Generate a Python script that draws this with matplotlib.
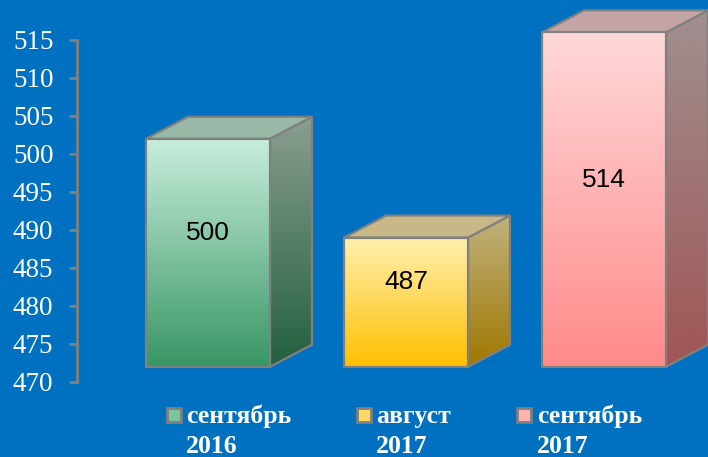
import numpy as np
import matplotlib
matplotlib.use("Agg")
import matplotlib.pyplot as plt
from matplotlib.patches import Polygon, Rectangle
from matplotlib.colors import LinearSegmentedColormap

# data
categories = ["сентябрь\n2016", "август\n2017", "сентябрь\n2017"]
values = [500, 487, 514]
yticks = [470, 475, 480, 485, 490, 495, 500, 505, 510, 515]

# colours: front top, front bottom, side top, side bottom, top face
palettes = [
    ("#C8EEDC", "#389664", "#8A9E90", "#236040", "#9AB8A6"),
    ("#FFF0B0", "#FFC000", "#C0B27E", "#A07800", "#C8B888"),
    ("#FFD8D8", "#FF8A8A", "#A09090", "#A05555", "#C4A4A4"),
]
legend_colors = ["#7CC49C", "#FFD860", "#FFB4B4"]

BG = "#0070C0"
EDGE = "#808080"

fig = plt.figure(figsize=(7.08, 4.57), dpi=100, facecolor=BG)
ax = fig.add_axes([77 / 708, 0, 1 - 77 / 708, 1])
ax.set_facecolor(BG)

base = 472          # floor of the 3d box
width = 0.626
dx, dy = 0.212, 2.9  # depth offset


def grad_poly(verts, c_top, c_bot, y0, y1, z):
    poly = Polygon(verts, closed=True, facecolor="none", edgecolor=EDGE,
                   lw=1.6, zorder=z + 0.5, joinstyle="round")
    ax.add_patch(poly)
    xs = [v[0] for v in verts]
    cmap = LinearSegmentedColormap.from_list("g", [c_bot, c_top])
    g = np.linspace(0, 1, 256).reshape(-1, 1)
    im = ax.imshow(g, cmap=cmap, origin="lower", aspect="auto",
                   extent=(min(xs), max(xs), y0, y1), zorder=z,
                   interpolation="bilinear")
    im.set_clip_path(poly)


for i, v in enumerate(values):
    ft, fb, st, sb, tp = palettes[i]
    x0, x1 = i - width / 2, i + width / 2
    top = v + 2
    side = [(x1, base), (x1 + dx, base + dy), (x1 + dx, top + dy), (x1, top)]
    grad_poly(side, st, sb, base, top + dy, 2)
    ax.add_patch(Polygon([(x0, top), (x1, top), (x1 + dx, top + dy), (x0 + dx, top + dy)],
                         closed=True, facecolor=tp, edgecolor=EDGE, lw=1.6, zorder=3))
    front = [(x0, base), (x1, base), (x1, top), (x0, top)]
    grad_poly(front, ft, fb, base, top, 4)
    ax.text(i, (base + top) / 2 + 2.6, str(v), ha="center", va="center",
            fontsize=19, family="Liberation Sans", color="black", zorder=6)

ax.set_xlim(-0.6616, 2.525)
ax.set_ylim(460.13, 520.26)

for s in ["top", "right", "bottom"]:
    ax.spines[s].set_visible(False)
ax.spines["left"].set_color(EDGE)
ax.spines["left"].set_linewidth(2)
ax.spines["left"].set_bounds(470, 515)
ax.set_xticks([])
ax.set_yticks(yticks)
ax.tick_params(axis="y", direction="out", length=6, width=2, color=EDGE,
               pad=11, labelcolor="white", labelsize=19.5)
for lab in ax.get_yticklabels():
    lab.set_family("Liberation Serif")

# legend below the chart
leg_box_x = [167, 357, 517]
leg_text_x = [186, 376, 537]
for i, cat in enumerate(categories):
    fig.patches.append(Rectangle((leg_box_x[i] / 708, 1 - 422 / 457), 14 / 708, 14 / 457,
                                 transform=fig.transFigure, facecolor=legend_colors[i],
                                 edgecolor="#7F7F7F", lw=2))
    line1, line2 = cat.split("\n")
    fig.text(leg_text_x[i] / 708, 1 - 423 / 457, line1, ha="left", va="baseline",
             color="white", fontsize=18.5, fontweight="bold", family="Liberation Serif")
    fig.text(leg_text_x[i] / 708, 1 - 453 / 457, line2, ha="left", va="baseline",
             color="white", fontsize=18.5, fontweight="bold", family="Liberation Serif")

fig.savefig("out.png", dpi=100, facecolor=BG)
